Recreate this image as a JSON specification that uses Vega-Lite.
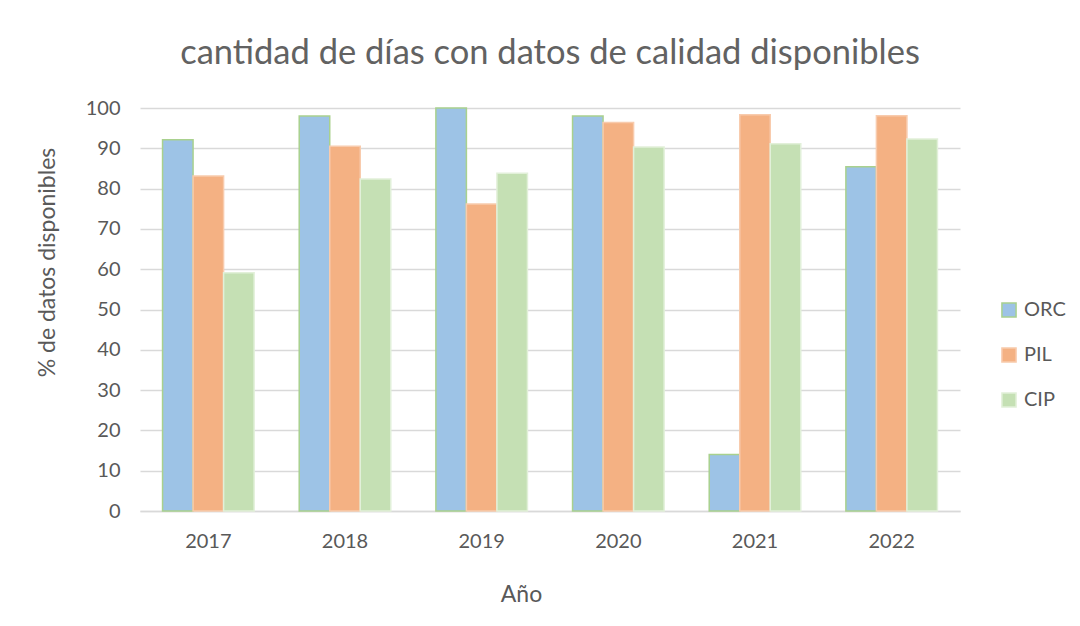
{
  "$schema": "https://vega.github.io/schema/vega-lite/v6.json",
  "width": 820,
  "height": 403,
  "autosize": {"type": "none"},
  "padding": {"left": 140, "top": 108, "right": 120, "bottom": 115},
  "background": "white",
  "title": {
    "text": "cantidad de días con datos de calidad disponibles",
    "fontSize": 34.5,
    "font": "Lato",
    "fontWeight": "normal",
    "color": "#626262",
    "anchor": "middle",
    "offset": 27
  },
  "data": {
    "values": [
      {"year": "2017", "station": "ORC", "value": 92.1},
      {"year": "2017", "station": "PIL", "value": 83.1},
      {"year": "2017", "station": "CIP", "value": 59.1},
      {"year": "2018", "station": "ORC", "value": 98.0},
      {"year": "2018", "station": "PIL", "value": 90.5},
      {"year": "2018", "station": "CIP", "value": 82.4},
      {"year": "2019", "station": "ORC", "value": 100.0},
      {"year": "2019", "station": "PIL", "value": 76.2},
      {"year": "2019", "station": "CIP", "value": 83.8},
      {"year": "2020", "station": "ORC", "value": 98.0},
      {"year": "2020", "station": "PIL", "value": 96.4},
      {"year": "2020", "station": "CIP", "value": 90.3},
      {"year": "2021", "station": "ORC", "value": 14.0},
      {"year": "2021", "station": "PIL", "value": 98.3},
      {"year": "2021", "station": "CIP", "value": 91.1},
      {"year": "2022", "station": "ORC", "value": 85.4},
      {"year": "2022", "station": "PIL", "value": 98.1},
      {"year": "2022", "station": "CIP", "value": 92.3}
    ]
  },
  "mark": {"type": "bar", "strokeWidth": 1.5},
  "encoding": {
    "x": {
      "field": "year",
      "type": "nominal",
      "scale": {"paddingInner": 0.33, "paddingOuter": 0.165},
      "axis": {
        "title": "Año",
        "titleFont": "Lato",
        "titleFontSize": 23,
        "titleFontWeight": "normal",
        "titleColor": "#595959",
        "titlePadding": 32,
        "titleX": 381,
        "labelFont": "Lato",
        "labelFontSize": 20,
        "labelColor": "#595959",
        "labelAngle": 0,
        "labelPadding": 20,
        "ticks": false,
        "domainColor": "#d9d9d9",
        "domainWidth": 1.5
      }
    },
    "xOffset": {"field": "station", "type": "nominal", "sort": ["ORC", "PIL", "CIP"]},
    "y": {
      "field": "value",
      "type": "quantitative",
      "scale": {"domain": [0, 100]},
      "axis": {
        "title": "% de datos disponibles",
        "titleFont": "Lato",
        "titleFontSize": 23,
        "titleFontWeight": "normal",
        "titleColor": "#595959",
        "titlePadding": 26,
        "titleY": 154,
        "labelFont": "Lato",
        "labelFontSize": 20,
        "labelColor": "#595959",
        "labelPadding": 20,
        "labelOverlap": false,
        "ticks": false,
        "domain": false,
        "values": [0, 10, 20, 30, 40, 50, 60, 70, 80, 90, 100],
        "gridColor": "#d9d9d9",
        "gridWidth": 1.5
      }
    },
    "fill": {
      "field": "station",
      "type": "nominal",
      "sort": ["ORC", "PIL", "CIP"],
      "scale": {"domain": ["ORC", "PIL", "CIP"], "range": ["#9DC3E6", "#F4B183", "#C5E0B4"]},
      "legend": {
        "title": null,
        "orient": "none",
        "legendX": 859,
        "legendY": 192,
        "symbolType": "square",
        "symbolSize": 200,
        "labelFont": "Lato",
        "labelFontSize": 20,
        "labelColor": "#595959",
        "rowPadding": 23,
        "labelOffset": 5
      }
    },
    "stroke": {
      "field": "station",
      "type": "nominal",
      "sort": ["ORC", "PIL", "CIP"],
      "scale": {"domain": ["ORC", "PIL", "CIP"], "range": ["#A9D18E", "#F8CBAD", "#E2F0D9"]},
      "legend": null
    }
  },
  "config": {"view": {"stroke": null}}
}
